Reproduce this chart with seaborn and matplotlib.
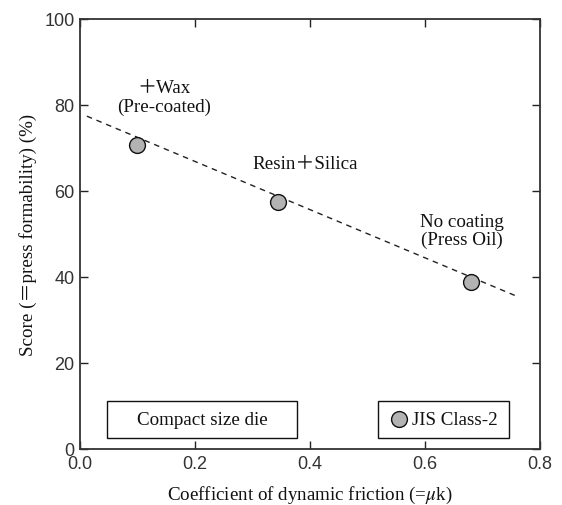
import matplotlib
matplotlib.use("Agg")
import matplotlib.pyplot as plt
import seaborn as sns
import pandas as pd
from matplotlib.patches import Rectangle

# data
friction = [0.10, 0.344, 0.68]
score = [70.7, 57.4, 38.9]
coating = ["＋Wax\n(Pre-coated)", "Resin＋Silica", "No coating\n(Press Oil)"]
label_x = [0.146, 0.392, 0.665]
label_y = [81.9, 66.3, 50.8]
trend_x = [0.012, 0.76]
trend_y = [77.4, 35.5]
x_ticks = [0.0, 0.2, 0.4, 0.6, 0.8]
y_ticks = [0, 20, 40, 60, 80, 100]

df = pd.DataFrame({"friction": friction, "score": score})
trend = pd.DataFrame({"x": trend_x, "y": trend_y})

sns.set_style("ticks")
plt.rcParams["mathtext.fontset"] = "stix"
serif = ["Liberation Serif", "Noto Sans CJK JP", "DejaVu Serif"]
sans = ["Liberation Sans", "DejaVu Sans"]
fs = 13.7

fig = plt.figure(figsize=(5.62, 5.06), dpi=100)
ax = fig.add_axes([0.1423, 0.1107, 0.8185, 0.8498])

sns.lineplot(data=trend, x="x", y="y", ax=ax, color="#222222", lw=1.0,
             linestyle=(0, (4, 3.5)), legend=False)
sns.scatterplot(data=df, x="friction", y="score", ax=ax, s=130,
                color="#b3b3b3", edgecolor="#111111", linewidth=1.0,
                zorder=3, legend=False)

for t, x, y in zip(coating, label_x, label_y):
    ax.text(x, y, t, ha="center", va="center", fontsize=fs,
            family=serif, color="#111111", linespacing=1.1)

ax.set_xlim(0, 0.8)
ax.set_ylim(0, 100)
ax.set_xticks(x_ticks)
ax.set_yticks(y_ticks)
ax.set_xticklabels([f"{v:.1f}" for v in x_ticks], family=sans, fontsize=13, color="#333333")
ax.set_yticklabels([str(v) for v in y_ticks], family=sans, fontsize=13, color="#333333")
ax.tick_params(direction="in", top=True, right=True, length=6, width=1.0,
               color="#222222", pad=4)
for s in ax.spines.values():
    s.set_visible(True)
    s.set_color("#333333")
    s.set_linewidth(1.3)

ax.set_xlabel("Coefficient of dynamic friction (=$\\mu$k)", family=serif,
              fontsize=fs, color="#111111", labelpad=9)
ax.set_ylabel("Score (＝press formability) (%)", family=serif,
              fontsize=fs, color="#111111", labelpad=5)

# info boxes
ax.add_patch(Rectangle((0.0587, 0.0256), 0.413, 0.086, transform=ax.transAxes,
                       facecolor="white", edgecolor="#111111", lw=1.0, zorder=4))
ax.text(0.0587 + 0.2065, 0.0256 + 0.043, "Compact size die", transform=ax.transAxes,
        ha="center", va="center", fontsize=fs, family=serif, color="#111111", zorder=5)

ax.add_patch(Rectangle((0.648, 0.0256), 0.285, 0.086, transform=ax.transAxes,
                       facecolor="white", edgecolor="#111111", lw=1.0, zorder=4))
ax.scatter([0.693], [0.0256 + 0.043], transform=ax.transAxes, s=130,
           color="#b3b3b3", edgecolor="#111111", linewidth=1.0, zorder=5)
ax.text(0.722, 0.0256 + 0.043, "JIS Class-2", transform=ax.transAxes,
        ha="left", va="center", fontsize=fs, family=serif, color="#111111", zorder=5)

fig.savefig("out.png", dpi=100)
